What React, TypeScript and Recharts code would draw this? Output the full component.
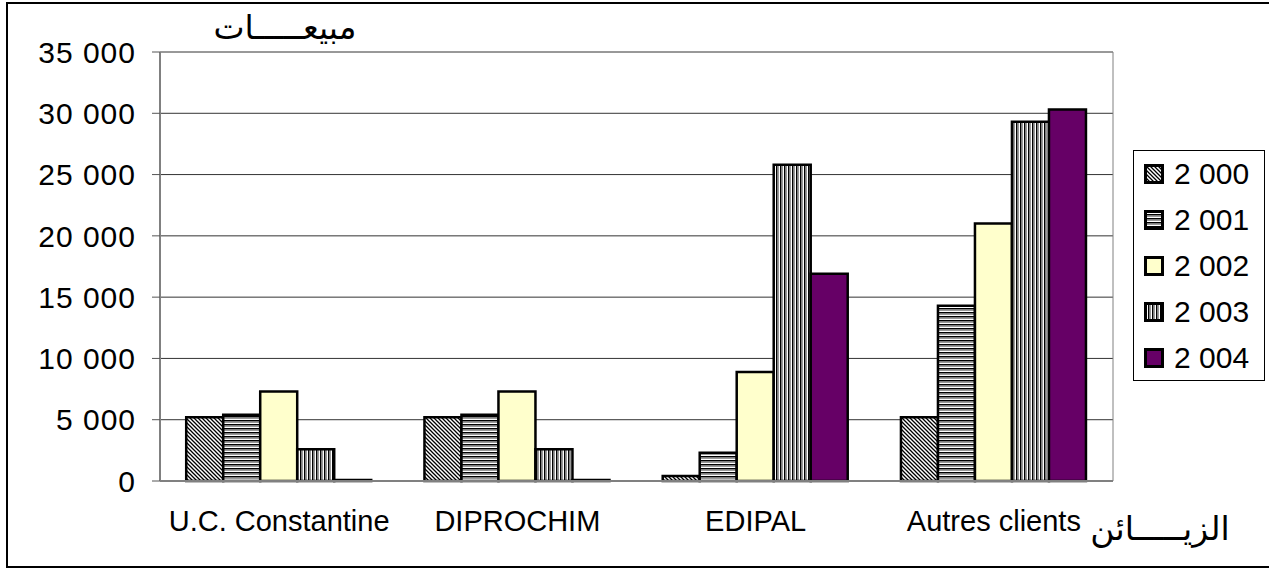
import React from "react";
import { Bar, BarChart, CartesianGrid, XAxis, YAxis } from "recharts";

const categories = ["U.C. Constantine", "DIPROCHIM", "EDIPAL", "Autres clients"];
const v2000 = [5200, 5200, 400, 5200];
const v2001 = [5400, 5400, 2300, 14300];
const v2002 = [7300, 7300, 8900, 21000];
const v2003 = [2600, 2600, 25800, 29300];
const v2004 = [80, 80, 16900, 30300];
const seriesNames = ["2 000", "2 001", "2 002", "2 003", "2 004"];
const yTicks = [0, 5000, 10000, 15000, 20000, 25000, 30000, 35000];
const boundaryTicks = [0, 1, 2, 3, 4];

const data = categories.map((name, i) => ({
  name,
  s0: v2000[i],
  s1: v2001[i],
  s2: v2002[i],
  s3: v2003[i],
  s4: v2004[i],
}));

const fills = ["url(#diag)", "url(#horiz)", "#FFFFCC", "url(#vert)", "#660066"];
const FONT = "'Liberation Sans', Arial, sans-serif";
const AR_FONT = "'DejaVu Sans', 'Liberation Sans', sans-serif";

const fmt = (v: number) => String(v).replace(/\B(?=(\d{3})+(?!\d))/g, " ");

function Patterns() {
  return (
    <defs>
      <pattern id="diag" width="4" height="4" patternUnits="userSpaceOnUse">
        <rect width="4" height="4" fill="#fff" />
        <path d="M-1,-1 L5,5 M-1,3 L1,5 M3,-1 L5,1" stroke="#000" strokeWidth="1.3" />
      </pattern>
      <pattern id="horiz" width="4" height="4" patternUnits="userSpaceOnUse">
        <rect width="4" height="4" fill="#fff" />
        <rect y="0" width="4" height="1.5" fill="#000" />
        <rect y="2" width="4" height="1" fill="#999" />
      </pattern>
      <pattern id="vert" width="4" height="4" patternUnits="userSpaceOnUse">
        <rect width="4" height="4" fill="#fff" />
        <rect x="0" width="1.5" height="4" fill="#000" />
        <rect x="2" width="1" height="4" fill="#999" />
      </pattern>
    </defs>
  );
}

function LegendBox() {
  return (
    <div
      style={{
        position: "absolute",
        left: 1133,
        top: 150,
        width: 132,
        height: 231,
        border: "1px solid #000",
        fontFamily: FONT,
        fontSize: 30,
        boxSizing: "border-box",
        background: "#fff",
      }}
    >
      {seriesNames.map((s, i) => (
        <div key={s} style={{ display: "flex", alignItems: "center", height: 46 }}>
          <svg width={20} height={20} style={{ marginLeft: 10, marginRight: 10 }}>
            <rect x={1.5} y={1.5} width={17} height={17} fill={fills[i]} stroke="#000" strokeWidth={3} />
          </svg>
          <span>{s}</span>
        </div>
      ))}
    </div>
  );
}

export default function App() {
  return (
    <div style={{ position: "absolute", left: 0, top: 0, width: 1269, height: 570, background: "#fff", overflow: "hidden" }}>
      <BarChart
        width={1269}
        height={570}
        data={data}
        margin={{ top: 52, right: 155, bottom: 39, left: 0 }}
        barCategoryGap="11%"
        barGap={0}
        style={{ position: "absolute", left: 0, top: 0 }}
      >
        <Patterns />
        <CartesianGrid vertical={false} stroke="#333" />
        <XAxis
          xAxisId="bnd"
          type="number"
          domain={[0, 4]}
          ticks={boundaryTicks}
          tick={false}
          axisLine={false}
          tickSize={8}
          tickLine={{ stroke: "#808080" }}
          height={0}
        />
        <XAxis
          xAxisId="cat"
          dataKey="name"
          tickLine={false}
          axisLine={{ stroke: "#808080", strokeWidth: 2 }}
          tickSize={6}
          tickMargin={23}
          height={50}
          tick={{ fill: "#000", fontSize: 29, fontFamily: FONT }}
          interval={0}
        />
        <YAxis
          width={160}
          domain={[0, 35000]}
          ticks={yTicks}
          tickFormatter={fmt}
          tickSize={8}
          tickMargin={16}
          axisLine={{ stroke: "#808080", strokeWidth: 2 }}
          tickLine={{ stroke: "#555" }}
          tick={{ fill: "#000", fontSize: 30, fontFamily: FONT, letterSpacing: 1 }}
          interval={0}
        />
        <YAxis yAxisId="right" orientation="right" width={1} tick={false} tickLine={false} axisLine={{ stroke: "#808080" }} />
        {["s0", "s1", "s2", "s3", "s4"].map((k, i) => (
          <Bar
            key={k}
            dataKey={k}
            xAxisId="cat"
            fill={fills[i]}
            stroke="#000"
            strokeWidth={2.5}
            isAnimationActive={false}
          />
        ))}
      </BarChart>
      <LegendBox />
      <div
        style={{
          position: "absolute",
          left: 6,
          top: 2,
          width: 1280,
          height: 566,
          border: "2.5px solid #000",
          boxSizing: "border-box",
          pointerEvents: "none",
        }}
      />
      <div
        style={{
          position: "absolute",
          left: 190,
          top: 8,
          width: 190,
          textAlign: "center",
          direction: "rtl",
          fontFamily: AR_FONT,
          fontSize: 33,
          lineHeight: "40px",
        }}
      >
        مبيعـــــات
      </div>
      <div
        style={{
          position: "absolute",
          left: 1080,
          top: 509,
          width: 160,
          textAlign: "center",
          direction: "rtl",
          fontFamily: AR_FONT,
          fontSize: 33,
          lineHeight: "40px",
        }}
      >
        الزيـــــائن
      </div>
    </div>
  );
}
